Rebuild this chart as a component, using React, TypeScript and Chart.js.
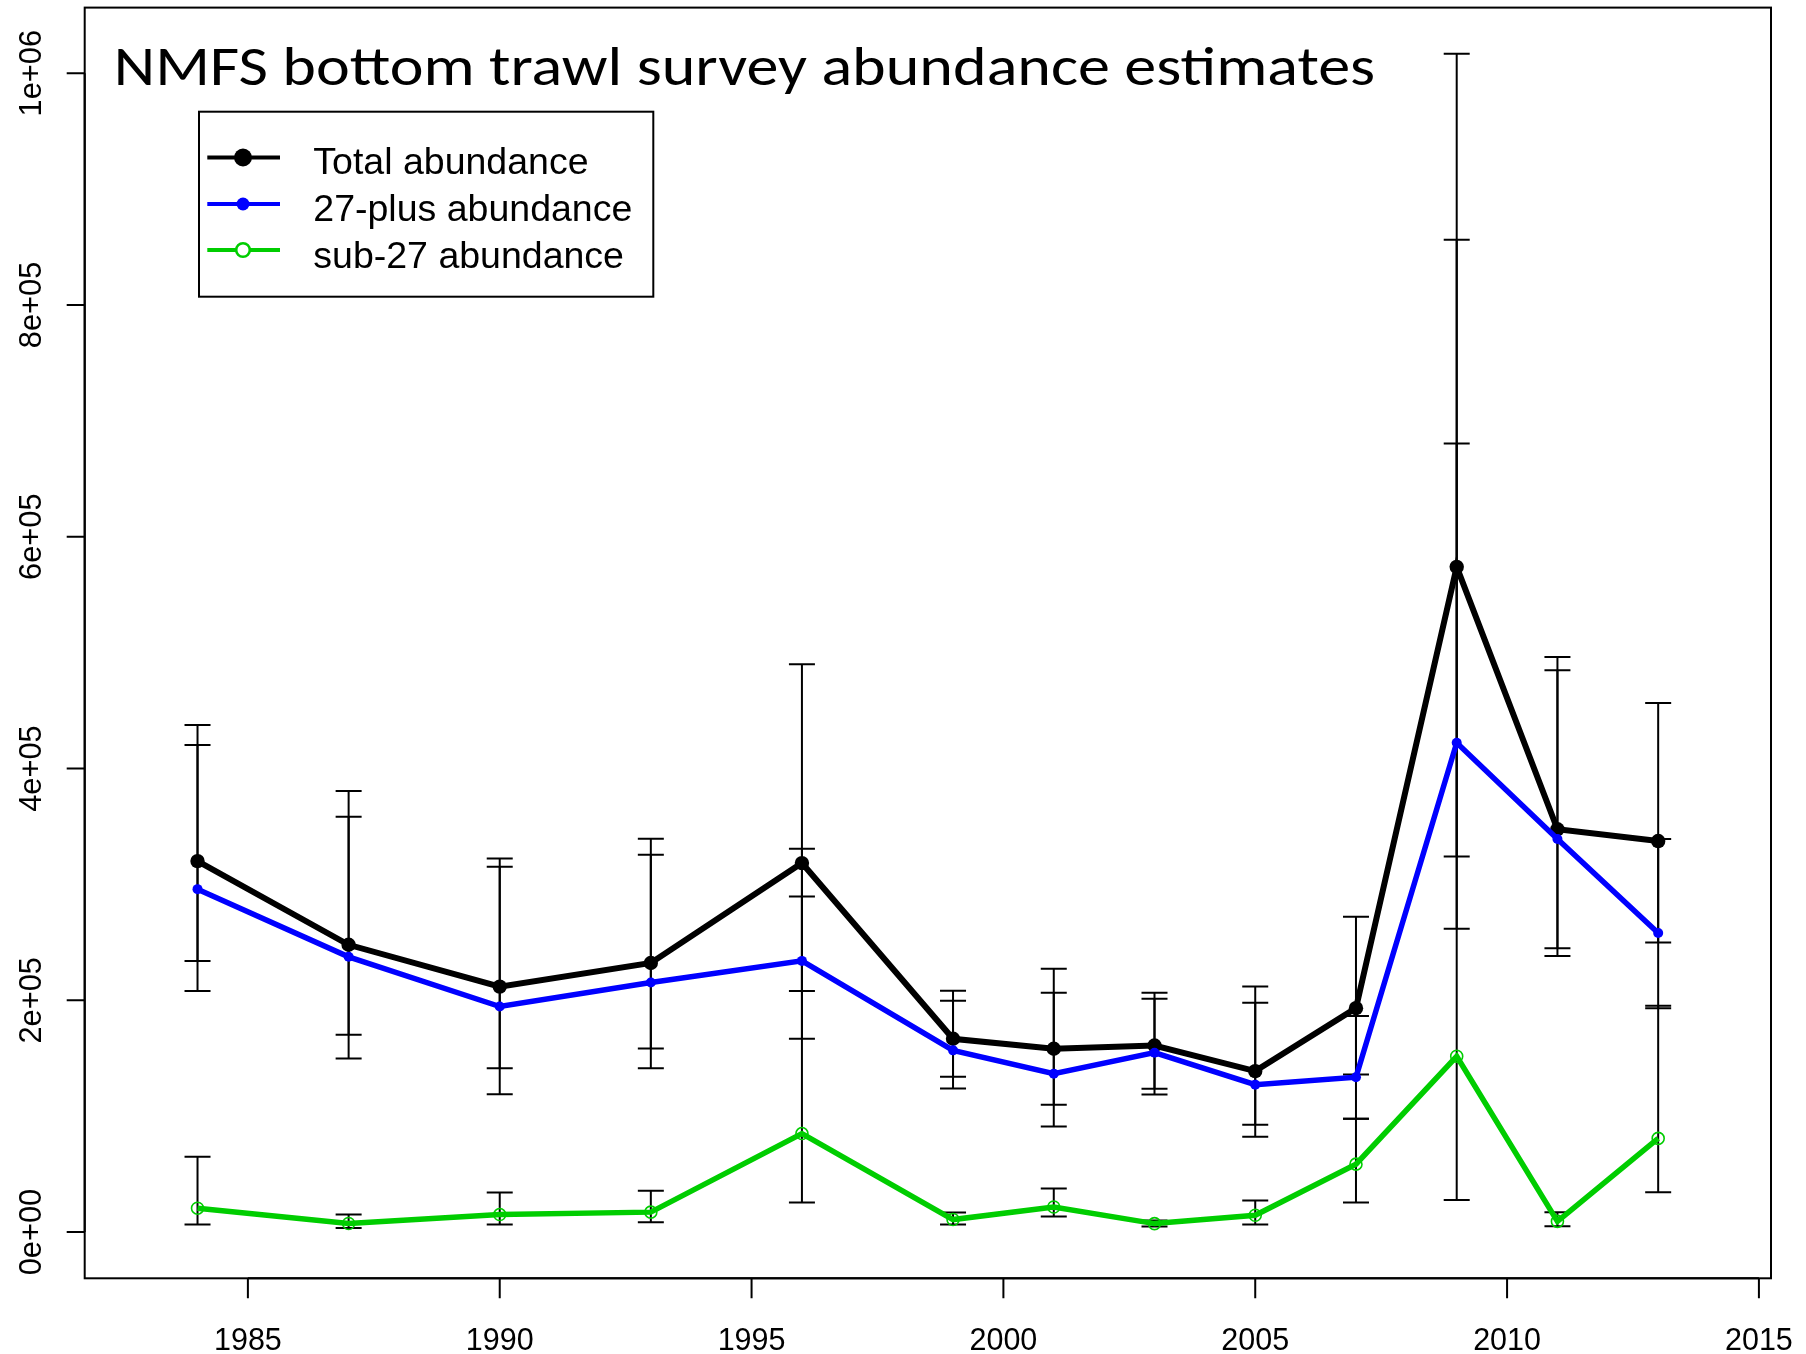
import React, { useEffect, useRef } from "react";
import { Chart, registerables } from "chart.js";

Chart.register(...registerables);

// ---- data ----
const years = [1984, 1987, 1990, 1993, 1996, 1999, 2001, 2003, 2005, 2007, 2009, 2011, 2013];

const totalAbundance = [320100, 247900, 211800, 232200, 318400, 166800, 158200, 161000, 138900, 193200, 574000, 347600, 337400];
const plusAbundance = [295900, 237500, 194600, 215300, 234000, 156800, 136700, 154800, 127200, 133600, 422200, 339100, 258000];
const subAbundance = [20600, 7400, 15100, 17200, 85000, 10800, 21600, 7300, 14500, 58600, 151700, 9200, 80800];

const totalLow = [208100, 149700, 118900, 141300, 166900, 123800, 91000, 118600, 82300, 136000, 324100, 238200, 249800];
const totalHigh = [437600, 380600, 322400, 339400, 490000, 208200, 227200, 206500, 211900, 272000, 1016700, 496200, 456600];
const plusLow = [234000, 170300, 141300, 158300, 208100, 134100, 109900, 123700, 92700, 97800, 261700, 245000, 193200];
const plusHigh = [420300, 358400, 315300, 325500, 289500, 199600, 206500, 201300, 197900, 186400, 680400, 484700, 339100];
const subLow = [6500, 3400, 6500, 8400, 25600, 6500, 13400, 4700, 6500, 25500, 27600, 5100, 34400];
const subHigh = [65000, 15100, 34200, 35700, 330700, 16800, 37500, 9900, 27200, 97800, 856200, 17100, 195300];

const xTickValues = [1985, 1990, 1995, 2000, 2005, 2010, 2015];
const xTickLabels = ["1985", "1990", "1995", "2000", "2005", "2010", "2015"];
const yTickValues = [0, 200000, 400000, 600000, 800000, 1000000];
const yTickLabels = ["0e+00", "2e+05", "4e+05", "6e+05", "8e+05", "1e+06"];

const titleText = "NMFS bottom trawl survey abundance estimates";
const seriesNames = ["Total abundance", "27-plus abundance", "sub-27 abundance"];
const seriesColors = ["#000000", "#0000FF", "#00CD00"];

export default function App() {
  const ref = useRef<HTMLCanvasElement>(null);

  useEffect(() => {
    const canvas = ref.current;
    if (!canvas) return;
    const toPts = (vals: number[]) => vals.map((v, i) => ({ x: years[i], y: v }));
    const bars = [
      { lo: totalLow, hi: totalHigh },
      { lo: plusLow, hi: plusHigh },
      { lo: subLow, hi: subHigh },
    ];

    const rPlugin = {
      id: "rBase",
      beforeDatasetsDraw(chart: any) {
        const { ctx, scales } = chart;
        const xs = scales.x;
        const ys = scales.y;
        ctx.save();
        ctx.strokeStyle = "#000";
        ctx.lineWidth = 2;
        ctx.lineCap = "butt";
        const half = 13;
        bars.forEach((b) => {
          years.forEach((yr, i) => {
            const px = xs.getPixelForValue(yr);
            const pLo = ys.getPixelForValue(b.lo[i]);
            const pHi = ys.getPixelForValue(b.hi[i]);
            ctx.beginPath();
            ctx.moveTo(px, pLo);
            ctx.lineTo(px, pHi);
            ctx.moveTo(px - half, pLo);
            ctx.lineTo(px + half, pLo);
            ctx.moveTo(px - half, pHi);
            ctx.lineTo(px + half, pHi);
            ctx.stroke();
          });
        });
        ctx.restore();
      },
      afterDatasetsDraw(chart: any) {
        const { ctx, chartArea, scales } = chart;
        const xs = scales.x;
        const ys = scales.y;
        const { left, right, top, bottom } = chartArea;
        ctx.save();
        ctx.strokeStyle = "#000";
        ctx.fillStyle = "#000";
        ctx.lineWidth = 2;
        // box
        ctx.strokeRect(left, top, right - left, bottom - top);

        // x axis
        const x0 = xs.getPixelForValue(xTickValues[0]);
        const x1 = xs.getPixelForValue(xTickValues[xTickValues.length - 1]);
        ctx.beginPath();
        ctx.moveTo(x0, bottom);
        ctx.lineTo(x1, bottom);
        xTickValues.forEach((v) => {
          const px = xs.getPixelForValue(v);
          ctx.moveTo(px, bottom);
          ctx.lineTo(px, bottom + 20);
        });
        ctx.stroke();
        ctx.font = "30.5px 'Liberation Sans', Arial, sans-serif";
        ctx.textAlign = "center";
        ctx.textBaseline = "alphabetic";
        xTickValues.forEach((v, i) => {
          ctx.fillText(xTickLabels[i], xs.getPixelForValue(v), 1350);
        });

        // y axis
        const y0 = ys.getPixelForValue(yTickValues[0]);
        const y1 = ys.getPixelForValue(yTickValues[yTickValues.length - 1]);
        ctx.beginPath();
        ctx.moveTo(left, y0);
        ctx.lineTo(left, y1);
        yTickValues.forEach((v) => {
          const py = ys.getPixelForValue(v);
          ctx.moveTo(left, py);
          ctx.lineTo(left - 18, py);
        });
        ctx.stroke();
        ctx.font = "30.8px 'Liberation Sans', Arial, sans-serif";
        yTickValues.forEach((v, i) => {
          const py = ys.getPixelForValue(v);
          ctx.save();
          ctx.translate(40.7, py);
          ctx.rotate(-Math.PI / 2);
          ctx.textAlign = "center";
          ctx.textBaseline = "alphabetic";
          ctx.fillText(yTickLabels[i], 0, 0);
          ctx.restore();
        });

        // title
        ctx.font = "55px Carlito, Lato, sans-serif";
        ctx.textAlign = "left";
        ctx.textBaseline = "alphabetic";
        const m = ctx.measureText(titleText);
        const inkW = m.actualBoundingBoxLeft + m.actualBoundingBoxRight;
        const sx = 1256 / inkW;
        ctx.save();
        ctx.translate(117.3, 85);
        ctx.scale(sx, 1);
        ctx.fillText(titleText, m.actualBoundingBoxLeft, 0);
        ctx.restore();

        // legend
        ctx.lineWidth = 2;
        ctx.strokeRect(199, 111.7, 454.3, 185);
        const lineYs = [157.5, 204, 250];
        const baseYs = [174, 221, 267.5];
        ctx.font = "37.5px 'Liberation Sans', Arial, sans-serif";
        seriesNames.forEach((name, i) => {
          ctx.strokeStyle = seriesColors[i];
          ctx.lineWidth = 4;
          ctx.beginPath();
          ctx.moveTo(207.3, lineYs[i]);
          ctx.lineTo(280, lineYs[i]);
          ctx.stroke();
          const cx = 243;
          if (i === 0) {
            ctx.fillStyle = seriesColors[i];
            ctx.beginPath();
            ctx.arc(cx, lineYs[i], 9, 0, Math.PI * 2);
            ctx.fill();
          } else if (i === 1) {
            ctx.fillStyle = seriesColors[i];
            ctx.beginPath();
            ctx.arc(cx, lineYs[i], 6.5, 0, Math.PI * 2);
            ctx.fill();
          } else {
            ctx.fillStyle = "#fff";
            ctx.lineWidth = 2.6;
            ctx.beginPath();
            ctx.arc(cx, lineYs[i], 6.8, 0, Math.PI * 2);
            ctx.fill();
            ctx.stroke();
          }
          ctx.fillStyle = "#000";
          ctx.textAlign = "left";
          ctx.fillText(name, 313.3, baseYs[i]);
        });
        ctx.restore();
      },
    };

    const chart = new Chart(canvas, {
      type: "line",
      data: {
        datasets: [
          {
            label: seriesNames[0],
            data: toPts(totalAbundance),
            borderColor: seriesColors[0],
            backgroundColor: seriesColors[0],
            borderWidth: 6,
            pointRadius: 7.2,
            pointBorderWidth: 0,
            pointBackgroundColor: seriesColors[0],
            tension: 0,
            order: 3,
          },
          {
            label: seriesNames[1],
            data: toPts(plusAbundance),
            borderColor: seriesColors[1],
            backgroundColor: seriesColors[1],
            borderWidth: 5.5,
            pointRadius: 5,
            pointBorderWidth: 0,
            pointBackgroundColor: seriesColors[1],
            tension: 0,
            order: 2,
          },
          {
            label: seriesNames[2],
            data: toPts(subAbundance),
            borderColor: seriesColors[2],
            backgroundColor: "rgba(0,0,0,0)",
            borderWidth: 5.5,
            pointRadius: 6,
            pointBorderWidth: 1.6,
            pointBorderColor: seriesColors[2],
            pointBackgroundColor: "rgba(0,0,0,0)",
            tension: 0,
            order: 1,
          },
        ],
      },
      options: {
        responsive: false,
        animation: false,
        devicePixelRatio: 1,
        events: [],
        layout: { padding: { left: 84.7, right: 35, top: 6, bottom: 75.7 } },
        scales: {
          x: { type: "linear", display: false, min: 1981.76, max: 2015.24 },
          y: { type: "linear", display: false, min: -39900, max: 1056600 },
        },
        plugins: {
          legend: { display: false },
          tooltip: { enabled: false },
          title: { display: false },
        },
      },
      plugins: [rPlugin],
    });
    return () => chart.destroy();
  }, []);

  return (
    <div style={{ position: "absolute", left: 0, top: 0, width: 1806, height: 1354, background: "#fff" }}>
      <canvas ref={ref} width={1806} height={1354} style={{ display: "block", width: 1806, height: 1354 }} />
    </div>
  );
}
